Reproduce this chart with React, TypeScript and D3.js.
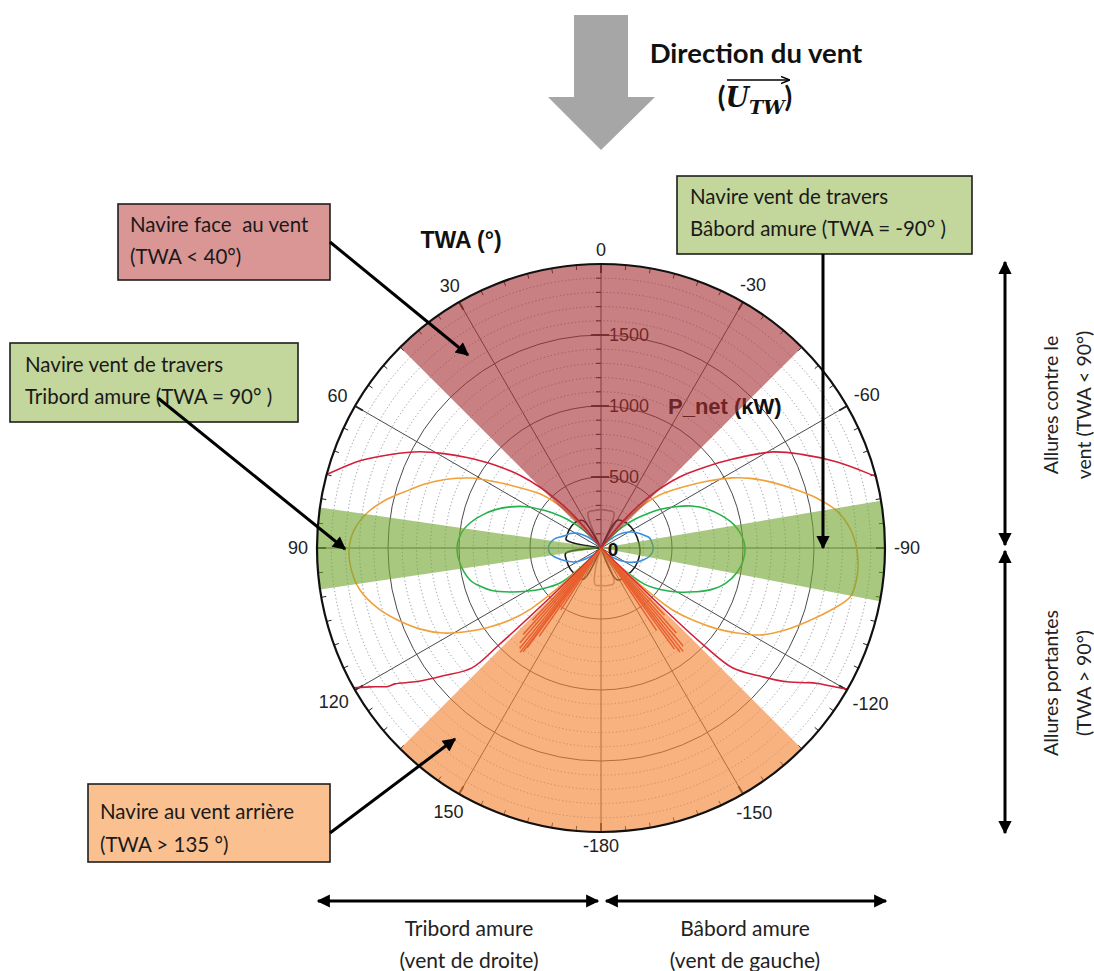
import React, { useEffect, useRef } from "react";
import * as d3 from "d3";

const WIDTH = 1094;
const HEIGHT = 971;

// polar axis
const angleTicks = [0, 30, 60, 90, 120, 150, 180, -150, -120, -90, -60, -30];
const angleTickLabels = ["0", "30", "60", "90", "120", "150", "-180", "-150", "-120", "-90", "-60", "-30"];
const radialMax = 2000;
const radialMajor = [500, 1000, 1500];
const radialLabels = ["500", "1000", "1500"];
const radialMinorStep = 100;
const angleMinorStep = 5;

// sectors, TWA in degrees (positive = starboard side, drawn on the left)
const sectorHeadWind = [-45, 45];
const sectorDownWind = [135, 225];
const sectorBeamStarboard = [81.8, 98.4];
const sectorBeamPort = [-100.8, -80.4];

// P_net curves : [TWA (deg), P_net (kW)]
const redPort: [number, number][] = [
  [-134.6, 0], [-134.2, 500], [-133.4, 1000], [-132.3, 1256], [-129, 1430], [-126, 1600],
  [-123.3, 1728], [-122.9, 1745], [-122, 1800], [-120, 1980], [-118, 2150], [-110, 2400],
  [-90, 2500], [-80, 2250], [-75.4, 2000], [-70, 1770], [-65, 1560], [-60.8, 1387],
  [-56, 1120], [-52, 920], [-48, 750], [-45, 600], [-42, 420], [-40, 300], [-38, 150], [-36, 0],
];
const redStarboard: [number, number][] = [
  [36, 0], [38, 150], [40, 300], [42, 420], [45, 600], [48, 760], [52, 950], [56, 1140],
  [59, 1290], [62, 1443], [66, 1620], [70, 1800], [75, 2000], [80, 2250], [90, 2500],
  [110, 2400], [118, 2150], [119.5, 2000], [121.5, 1870], [123, 1790], [123.4, 1738],
  [126, 1600], [129, 1430], [132.9, 1240], [133.5, 1000], [134.2, 500], [134.6, 0],
];
const orangePort: [number, number][] = [
  [-135, 0], [-134.5, 150], [-133, 400], [-131, 660], [-128, 830], [-125, 990], [-122, 1130],
  [-118.7, 1276], [-114, 1420], [-109, 1560], [-105, 1680], [-101, 1790], [-96, 1815],
  [-91, 1805], [-86, 1765], [-81, 1680], [-77, 1560], [-73, 1420], [-69, 1290], [-65, 1160],
  [-62, 1052], [-58, 890], [-54, 740], [-48, 560], [-44, 400], [-40, 200], [-36, 0],
];
const orangeStarboard: [number, number][] = [
  [36, 0], [40, 200], [44, 400], [48, 560], [54, 731], [58, 880], [61.9, 1046], [66, 1190],
  [70, 1320], [73, 1406], [77, 1540], [81.5, 1666], [86, 1745], [90.5, 1775], [95, 1765],
  [99.9, 1723], [105, 1630], [109.4, 1523], [114, 1400], [118.3, 1263], [122, 1110],
  [125, 980], [128.4, 817], [131, 650], [133, 400], [134.5, 150], [135, 0],
];
const greenPort: [number, number][] = [
  [-136, 0], [-135, 100], [-133, 250], [-130, 390], [-125, 510], [-120, 620], [-115, 730],
  [-111, 823], [-106, 910], [-100, 975], [-95, 1005], [-90, 1014], [-85, 995], [-80, 950],
  [-75, 880], [-70, 800], [-65, 700], [-61, 600], [-57, 500], [-54, 420], [-50, 320],
  [-46, 220], [-42, 120], [-38, 0],
];
const greenStarboard: [number, number][] = [
  [38, 0], [42, 120], [46, 220], [50, 320], [54, 420], [56.8, 488], [61, 600], [65.7, 703],
  [70, 790], [74, 860], [79.2, 939], [84, 990], [90, 1014], [96, 1000], [103.7, 950],
  [108, 885], [111, 830], [115.8, 712], [120, 610], [125, 500], [130.5, 380], [133, 250],
  [135, 100], [136, 0],
];
const bluePort: [number, number][] = [
  [-139, 0], [-135, 40], [-130, 90], [-125, 140], [-120, 190], [-115, 240], [-110, 280],
  [-105, 315], [-100, 345], [-95, 362], [-90, 368], [-85, 362], [-78.5, 350], [-74, 320],
  [-70, 295], [-67, 275], [-62, 240], [-57, 200], [-52, 150], [-47, 90], [-42, 30], [-40, 0],
];
const blueStarboard: [number, number][] = [
  [40, 0], [45, 60], [50, 120], [55, 170], [60, 210], [65, 240], [70, 262], [74, 290],
  [77, 318], [81, 345], [85, 362], [90, 370], [95, 365], [99, 345], [102.8, 318], [108, 280],
  [112, 250], [116.6, 220], [121, 180], [126, 130], [131, 80], [136, 30], [139, 0],
];
const blackPort: [number, number][] = [
  [-154, 0], [-153, 252], [-135, 265], [-119, 274], [-105, 276], [-93, 275], [-73, 265],
  [-55, 258], [-40, 245], [-30.5, 227], [-30, 0],
];
const blackStarboard: [number, number][] = [
  [30, 0], [33, 230], [40, 250], [50, 258], [60, 258], [70, 255], [76.6, 252], [76.8, 0],
  [98.4, 0], [98.6, 252], [110, 258], [125, 262], [140, 258], [150.6, 252], [152, 0],
];
const grayHead: [number, number][] = [
  [-25, 0], [-20, 265], [-10, 268], [0, 270], [10, 268], [20, 265], [25, 0],
];
const grayTail: [number, number][] = [
  [163, 0], [165, 150], [171, 262], [180, 265], [190, 268], [200, 265], [207, 0],
];
// erratic downwind points
const spikesStarboard: [number, number][] = [
  [136.5, 700], [138, 820], [139.5, 880], [141, 910], [142.2, 930], [143.1, 915],
  [143.5, 875], [145, 760], [147, 520],
];
const spikesPort: [number, number][] = [
  [-136.5, 650], [-138.5, 800], [-140, 900], [-141.5, 930], [-142.8, 920], [-144, 880],
  [-146, 700],
];

const chartFont = "'Liberation Sans', Arial, sans-serif";
const noteFont = "Lato, 'Open Sans', sans-serif";

export default function App() {
  const svgRef = useRef<SVGSVGElement | null>(null);

  useEffect(() => {
    if (!svgRef.current) return;
    const svg = d3.select(svgRef.current);
    svg.selectAll("*").remove();

    const cx = 601;
    const cy = 548;
    const R = 284;

    svg.append("rect").attr("width", WIDTH).attr("height", HEIGHT).attr("fill", "#fff");

    // markers
    const defs = svg.append("defs");
    defs
      .append("marker")
      .attr("id", "head")
      .attr("viewBox", "0 0 10 10")
      .attr("refX", 9)
      .attr("refY", 5)
      .attr("markerWidth", 5)
      .attr("markerHeight", 4.4)
      .attr("orient", "auto-start-reverse")
      .append("path")
      .attr("d", "M0,0 L10,5 L0,10 z")
      .attr("fill", "#000");
    defs
      .append("marker")
      .attr("id", "smallHead")
      .attr("viewBox", "0 0 10 10")
      .attr("refX", 9)
      .attr("refY", 5)
      .attr("markerWidth", 6)
      .attr("markerHeight", 6)
      .attr("orient", "auto")
      .append("path")
      .attr("d", "M0,1 L10,5 L0,9")
      .attr("fill", "none")
      .attr("stroke", "#000")
      .attr("stroke-width", 1.5);
    defs
      .append("clipPath")
      .attr("id", "polarClip")
      .append("circle")
      .attr("r", R);

    const rScale = d3.scaleLinear().domain([0, radialMax]).range([0, R]);
    const toAngle = (twa: number) => (-twa * Math.PI) / 180;
    const pt = (twa: number, r: number) => d3.pointRadial(toAngle(twa), r);

    const g = svg.append("g").attr("transform", `translate(${cx},${cy})`);

    // dotted minor circles
    g.selectAll(".minorCircle")
      .data(d3.range(radialMinorStep, radialMax, radialMinorStep).filter((v) => v % 500 !== 0))
      .enter()
      .append("circle")
      .attr("r", (d) => rScale(d))
      .attr("fill", "none")
      .attr("stroke", "#7f8a96")
      .attr("stroke-width", 0.9)
      .attr("stroke-dasharray", "1.2,2.4");

    // major circles
    g.selectAll(".majorCircle")
      .data(radialMajor)
      .enter()
      .append("circle")
      .attr("r", (d) => rScale(d))
      .attr("fill", "none")
      .attr("stroke", "#4a4a4a")
      .attr("stroke-width", 1);

    // spokes
    g.selectAll(".spoke")
      .data(d3.range(0, 360, 30))
      .enter()
      .append("line")
      .attr("x1", 0)
      .attr("y1", 0)
      .attr("x2", (d) => pt(d, R)[0])
      .attr("y2", (d) => pt(d, R)[1])
      .attr("stroke", "#4a4a4a")
      .attr("stroke-width", 1);

    // outer ticks
    g.selectAll(".aTick")
      .data(d3.range(0, 360, angleMinorStep))
      .enter()
      .append("line")
      .attr("x1", (d) => pt(d, R - (d % 30 === 0 ? 9 : 5))[0])
      .attr("y1", (d) => pt(d, R - (d % 30 === 0 ? 9 : 5))[1])
      .attr("x2", (d) => pt(d, R)[0])
      .attr("y2", (d) => pt(d, R)[1])
      .attr("stroke", "#222")
      .attr("stroke-width", (d) => (d % 30 === 0 ? 2 : 1));

    // radial ticks on the 0 deg axis
    g.selectAll(".rMinor")
      .data(d3.range(radialMinorStep, radialMax, radialMinorStep))
      .enter()
      .append("line")
      .attr("x1", -5)
      .attr("x2", 0)
      .attr("y1", (d) => -rScale(d))
      .attr("y2", (d) => -rScale(d))
      .attr("stroke", "#333")
      .attr("stroke-width", 1.2);
    g.selectAll(".rMajor")
      .data(radialMajor)
      .enter()
      .append("line")
      .attr("x1", -10)
      .attr("x2", 8)
      .attr("y1", (d) => -rScale(d))
      .attr("y2", (d) => -rScale(d))
      .attr("stroke", "#222")
      .attr("stroke-width", 1.8);

    g.selectAll(".rLabel")
      .data(radialMajor)
      .enter()
      .append("text")
      .attr("x", 8)
      .attr("y", (d) => -rScale(d))
      .attr("dominant-baseline", "central")
      .attr("font-family", chartFont)
      .attr("font-size", 18)
      .attr("fill", "#1a1a1a")
      .text((d, i) => radialLabels[i]);

    g.append("text")
      .attr("x", 67)
      .attr("y", -rScale(1000))
      .attr("dominant-baseline", "central")
      .attr("font-family", chartFont)
      .attr("font-size", 22)
      .attr("font-weight", "bold")
      .attr("fill", "#111")
      .text("P_net (kW)");

    // curves
    const line = d3
      .lineRadial<[number, number]>()
      .angle((d) => toAngle(d[0]))
      .radius((d) => rScale(d[1]))
      .curve(d3.curveCatmullRom.alpha(0.5));

    const curves = [
      { data: grayHead, color: "#9a9a9a" },
      { data: grayTail, color: "#9a9a9a" },
      { data: [...blackPort, ...blackStarboard], color: "#1a1a1a" },
      { data: [...bluePort, ...blueStarboard], color: "#3d8ee0" },
      { data: [...greenPort, ...greenStarboard], color: "#22b24a" },
      { data: [...orangePort, ...orangeStarboard], color: "#f1a13a" },
      { data: [...redPort, ...redStarboard], color: "#d3203a" },
    ];
    const cg = g.append("g").attr("clip-path", "url(#polarClip)");
    cg.selectAll(".curve")
      .data(curves)
      .enter()
      .append("path")
      .attr("d", (d) => line(d.data))
      .attr("fill", "none")
      .attr("stroke", (d) => d.color)
      .attr("stroke-width", 1.6)
      .attr("stroke-linejoin", "round");

    cg.selectAll(".spike")
      .data([...spikesStarboard, ...spikesPort])
      .enter()
      .append("line")
      .attr("x1", 0)
      .attr("y1", 0)
      .attr("x2", (d) => pt(d[0], rScale(d[1]))[0])
      .attr("y2", (d) => pt(d[0], rScale(d[1]))[1])
      .attr("stroke", "#d8262b")
      .attr("stroke-width", 1.5);

    // coloured sectors laid over the plot
    const arc = d3.arc<number[]>()
      .innerRadius(0)
      .outerRadius(R)
      .startAngle((d) => toAngle(d[1]))
      .endAngle((d) => toAngle(d[0]));
    const sectors = [
      { span: sectorHeadWind, color: "#a83235" },
      { span: sectorDownWind, color: "#f28332" },
      { span: sectorBeamStarboard, color: "#73a632" },
      { span: sectorBeamPort, color: "#73a632" },
    ];
    g.selectAll(".sector")
      .data(sectors)
      .enter()
      .append("path")
      .attr("d", (d) => arc(d.span) as string)
      .attr("fill", (d) => d.color)
      .attr("fill-opacity", 0.62);

    // outer circle
    g.append("circle")
      .attr("r", R)
      .attr("fill", "none")
      .attr("stroke", "#111")
      .attr("stroke-width", 2.2);

    // angle labels
    g.selectAll(".aLabel")
      .data(angleTicks)
      .enter()
      .append("text")
      .attr("text-anchor", "middle")
      .attr("dominant-baseline", "central")
      .attr("font-family", chartFont)
      .attr("font-size", 18)
      .attr("fill", "#222")
      .text((d, i) => angleTickLabels[i])
      .each(function (d) {
        const el = this as SVGTextElement;
        const w = el.getComputedTextLength();
        const a = (d * Math.PI) / 180;
        const off = 9 + Math.abs(Math.sin(a)) * (w / 2) + Math.abs(Math.cos(a)) * 5;
        const p = pt(d, R + off);
        d3.select(el).attr("x", p[0]).attr("y", p[1]);
      });

    g.append("text")
      .attr("x", 12)
      .attr("y", 1)
      .attr("text-anchor", "middle")
      .attr("dominant-baseline", "central")
      .attr("font-family", chartFont)
      .attr("font-size", 19)
      .attr("font-weight", "bold")
      .attr("fill", "#111")
      .text("0");

    svg.append("text")
      .attr("x", 461)
      .attr("y", 240)
      .attr("text-anchor", "middle")
      .attr("dominant-baseline", "central")
      .attr("font-family", chartFont)
      .attr("font-size", 23)
      .attr("font-weight", "bold")
      .attr("fill", "#111")
      .text("TWA (°)");

    // wind arrow and title
    svg.append("path")
      .attr("d", "M574,15 L628,15 L628,97 L655,97 L601,150 L548,97 L574,97 Z")
      .attr("fill", "#a6a6a6");
    svg.append("text")
      .attr("x", 756)
      .attr("y", 63)
      .attr("text-anchor", "middle")
      .attr("font-family", noteFont)
      .attr("font-size", 27.5)
      .attr("font-weight", "bold")
      .attr("fill", "#111")
      .text("Direction du vent");
    const ut = svg.append("text")
      .attr("x", 755)
      .attr("y", 107)
      .attr("text-anchor", "middle")
      .attr("font-weight", "bold")
      .attr("fill", "#111");
    ut.append("tspan").attr("font-family", noteFont).attr("font-size", 28).text("(");
    ut.append("tspan").attr("font-family", "'DejaVu Serif', serif").attr("font-style", "italic").attr("font-size", 27).text("U");
    ut.append("tspan").attr("font-family", "'DejaVu Serif', serif").attr("font-style", "italic").attr("font-size", 19).attr("dy", 7).text("TW");
    ut.append("tspan").attr("font-family", noteFont).attr("font-size", 28).attr("dy", -7).text(")");
    svg.append("line")
      .attr("x1", 727)
      .attr("x2", 789)
      .attr("y1", 80)
      .attr("y2", 80)
      .attr("stroke", "#000")
      .attr("stroke-width", 1.5)
      .attr("marker-end", "url(#smallHead)");

    // annotation boxes
    const boxes = [
      { x: 118, y: 204, w: 212, h: 76, fill: "#d99694", lines: ["Navire face\u00a0 au vent", "(TWA < 40°)"], tx: 130, ty: [232, 264] },
      { x: 10, y: 343, w: 288, h: 79, fill: "#c3d69b", lines: ["Navire vent de travers", "Tribord amure (TWA = 90° )"], tx: 25, ty: [372, 404] },
      { x: 677, y: 176, w: 295, h: 78, fill: "#c3d69b", lines: ["Navire vent de travers", "Bâbord amure (TWA = -90° )"], tx: 690, ty: [204, 236] },
      { x: 88, y: 784, w: 242, h: 78, fill: "#fac090", lines: ["Navire au vent arrière", "(TWA > 135 °)"], tx: 100, ty: [819, 852] },
    ];
    boxes.forEach((b) => {
      svg.append("rect")
        .attr("x", b.x)
        .attr("y", b.y)
        .attr("width", b.w)
        .attr("height", b.h)
        .attr("fill", b.fill)
        .attr("stroke", "#1f1f1f")
        .attr("stroke-width", 1.6);
      b.lines.forEach((t, i) => {
        svg.append("text")
          .attr("x", b.tx)
          .attr("y", b.ty[i])
          .attr("font-family", noteFont)
          .attr("font-size", 20.5)
          .attr("fill", "#1a1a1a")
          .text(t);
      });
    });

    // arrows
    const arrows = [
      { x1: 330, y1: 242, x2: 468, y2: 355, both: false },
      { x1: 158, y1: 398, x2: 345, y2: 549, both: false },
      { x1: 823, y1: 254, x2: 823, y2: 548, both: false },
      { x1: 330, y1: 833, x2: 455, y2: 739, both: false },
      { x1: 1005, y1: 262, x2: 1005, y2: 545, both: true },
      { x1: 1005, y1: 551, x2: 1005, y2: 833, both: true },
      { x1: 318, y1: 901, x2: 598, y2: 901, both: true },
      { x1: 606, y1: 901, x2: 886, y2: 901, both: true },
    ];
    arrows.forEach((a) => {
      const l = svg.append("line")
        .attr("x1", a.x1)
        .attr("y1", a.y1)
        .attr("x2", a.x2)
        .attr("y2", a.y2)
        .attr("stroke", "#000")
        .attr("stroke-width", 3)
        .attr("marker-end", "url(#head)");
      if (a.both) l.attr("marker-start", "url(#head)");
    });

    // side and bottom captions
    const sideText = [
      { x: 1050, y: 405, t: "Allures contre le" },
      { x: 1083, y: 405, t: "vent (TWA < 90°)" },
      { x: 1050, y: 683, t: "Allures portantes" },
      { x: 1083, y: 683, t: "(TWA > 90°)" },
    ];
    sideText.forEach((s) => {
      svg.append("text")
        .attr("transform", `translate(${s.x},${s.y}) rotate(-90)`)
        .attr("text-anchor", "middle")
        .attr("dominant-baseline", "central")
        .attr("font-family", noteFont)
        .attr("font-size", 19.5)
        .attr("fill", "#222")
        .text(s.t);
    });
    const bottomText = [
      { x: 469, y: 936, t: "Tribord amure" },
      { x: 469, y: 968, t: "(vent de droite)" },
      { x: 745, y: 936, t: "Bâbord amure" },
      { x: 745, y: 968, t: "(vent de gauche)" },
    ];
    bottomText.forEach((s) => {
      svg.append("text")
        .attr("x", s.x)
        .attr("y", s.y)
        .attr("text-anchor", "middle")
        .attr("font-family", noteFont)
        .attr("font-size", 21)
        .attr("fill", "#222")
        .text(s.t);
    });
  }, []);

  return (
    <svg
      ref={svgRef}
      width={WIDTH}
      height={HEIGHT}
      style={{ position: "absolute", left: 0, top: 0 }}
    />
  );
}
